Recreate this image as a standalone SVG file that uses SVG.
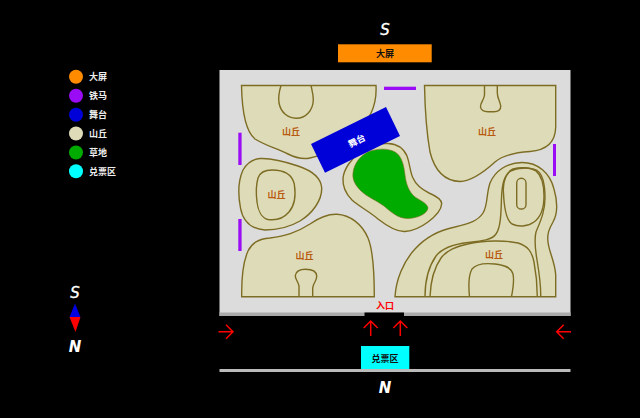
<svg xmlns="http://www.w3.org/2000/svg" width="640" height="418" viewBox="0 0 640 418">
<style>
.hill{fill:#dedcb8;stroke:#7d6c24;stroke-width:1.4}
.line{fill:none;stroke:#7d6c24;stroke-width:1.4}
.bar{fill:#9a0cf5}
.lab{font:bold 9px "Noto Sans CJK SC","Liberation Sans",sans-serif;text-anchor:middle}
.hl{fill:#b8590f}
.leg{font:bold 9px "Noto Sans CJK SC","Liberation Sans",sans-serif;fill:#eee}
.dir{font:italic 400 15px "DejaVu Sans",sans-serif;fill:#fff;text-anchor:middle;stroke:#fff;stroke-width:.3}
.dirb{font:italic 700 15px "DejaVu Sans",sans-serif;fill:#fff;text-anchor:middle}
.arr{fill:none;stroke:#f00;stroke-width:1.5}
</style>
<rect width="640" height="418" fill="#000"/>
<rect x="219.500" y="70" width="351" height="246" fill="#dcdcdc"/>
<rect x="219.500" y="312.500" width="351" height="3.500" fill="#aaa"/>
<rect x="364.500" y="312.500" width="39.500" height="3.500" fill="#000"/>
<g id="hill-nw"><path class="hill" d="M241.500,85.500H376C377,104 370,121 355,133C342,143 326,155 310,158C303,159.500 296,158 288,154C276,148 264,145 255,139C245,131 242,110 241.500,85.500Z"/><path class="line" d="M281,85.500C279,92 278,97 279,103C281,113 288,118 296,118.300C306,118.500 313,110 313.300,100C313.300,94 312,90 311,85.500"/></g>
<g id="hill-ne"><path class="hill" d="M424.500,85.500H555.700V127C555.500,141 548,150 530,151.500C515,152.500 503,155 495,162C484,172 472,181 460,181.500C446,181 435,172 430,152C427,135 425,110 424.500,85.500Z"/><path class="line" d="M484.500,85.500V95C484,100 480,103 480.500,107C481,110.500 484,111.700 488,111.700H494C498,111.700 501,110 500.700,106C500,101 497.500,99 497.300,93V85.500"/></g>
<g id="hill-w"><path class="hill" d="M260,158.500C270,158 285,161.500 298,166C313,171 321,178 321.700,188C322,200 313,213 300,221C288,228 275,230 265,230C252,229 243,222 240.500,208C238,195 238.500,180 243,170C247,163 253,159 260,158.500Z"/><path class="line" d="M272,170C283,170 292,174 294.300,184C296,195 295,205 289,212C283,219 275,220.500 268,219.500C262,218 258,211 257,202C256,194 256,185 258,178C260,172 265,170 272,170Z"/></g>
<g id="hill-sw"><path class="hill" d="M241.700,296.700C241.500,282 243,262 248,251C252,243 258,239 270,238C285,236 296,233 310,224C320,217 329,214 337,214.300C350,215 362,224 368,238C373,250 374.300,270 374.300,296.700Z"/><path class="line" d="M299,296.700V286C298,281 295,279 295.300,275.500C296,271 300,269.300 305.500,269.300C312,269.300 316.500,271 316.700,276C317,281 313,283 312.700,288V296.700"/></g>
<g id="hill-c"><path class="hill" d="M360,152C367,146 376,143 388,143.500C398,144 404,149 407,156C410,164 410,172 413,178C416,185 421,189 429,193C436,196 441.500,199 441.700,203.500C441.500,209 436,216 428,222C420,228 412,231 405,231.500C396,232 387,226 378,219C370,212 360,207 352,200C346,194 342.500,186 343,178C344,169 351,159 360,152Z"/></g>
<g id="lawn"><path d="M353,173C354,163 361,155 369,151.500C377,148.500 388,148 395,152C402,156 404,166 405,175C406,184 409,192 415,197C421,201 427,203 428,208C427,214 418,218 408,218.500C398,218.500 391,212 384,206C376,200 367,197 361,191C356,186 352,180 353,173Z" fill="#00ab00" stroke="#7d6c24" stroke-width="0.600"/></g>
<g id="hill-se"><path class="hill" d="M395,296.700C396,280 403,262 415,249C425,238 440,230 455,227C468,224 478,221 483,213C488,205 486,195 490,183C495,171 507,162.500 522,162.500C538,162.500 550,173 554,189C558,203 558,213 553,222C549,229 547,234 548,242C549,252 555,262 555.700,275V296.700Z"/>
<path class="line" d="M425,296.700C425,280 429,266 436,256C443,247 455,244 468,242.500C482,241 492,240 496,234C501,227 501,212 501.500,198C502,184 504,176 510,171.500C516,167.500 530,167 537,170.500C544,175 545,188 545,198C545,212 540,222 536,232C534,240 535,248 537,260C539,272 541,285 540.700,296.700"/>
<path class="line" d="M430,296.700C430.500,283 434,268 441,258C447,250 456,246.500 470,243.500C484,240.500 505,240 518,243C528,246 532,252 534,262C536.500,275 537.300,285 537.300,296.700"/>
<path class="line" d="M503.500,193C502.500,182 506,172 513,169C520,167 530,167 536,171C542,176 544,186 544,196C544,208 541,217 534,222C527,227 518,227 512,224C506,220 504,205 503.500,193Z"/>
<rect class="line" x="516.700" y="178.300" width="9.300" height="30.700" rx="4.600"/>
<path class="line" d="M469.500,296.700C468.500,287 468,276 472,269C476,264 486,263 495,264C504,265 511,267 513,274C514.500,281 513,289 511.500,296.700"/></g>
<g id="labels">
<text class="lab hl" x="291" y="134.500">山丘</text>
<text class="lab hl" x="487" y="134.500">山丘</text>
<text class="lab hl" x="276.500" y="197.500">山丘</text>
<text class="lab hl" x="304.500" y="258.500">山丘</text>
<text class="lab hl" x="494" y="257.500">山丘</text>
</g>
<g id="stage"><polygon points="386,107 400,136 325,172.700 311,144" fill="#0000d8"/><text class="lab" fill="#fff" transform="translate(357,141) rotate(-27)" y="3">舞台</text></g>
<g id="rails"><rect class="bar" x="384" y="86.700" width="32" height="3.300"/><rect class="bar" x="238.300" y="132.700" width="3.300" height="32.300"/><rect class="bar" x="238.300" y="219" width="3.300" height="32"/><rect class="bar" x="553" y="144" width="3" height="32"/></g>
<g id="screen"><rect x="338" y="44.300" width="93.700" height="18" fill="#ff8c00"/><text class="lab" fill="#111" x="385" y="56.500">大屏</text></g>
<text class="dir" x="385" y="35">S</text>
<text class="dirb" x="385" y="393">N</text>
<g id="entrance"><text class="lab" fill="#f00" x="385" y="309">入口</text></g>
<g id="connectors">
<path class="arr" d="M218.500,331.700H233M226,324.700L233,331.700L226,338.700"/>
<path class="arr" d="M571,331.700H556.700M563.700,324.700L556.700,331.700L563.700,338.700"/>
<path class="arr" d="M370.700,336V321M363.700,328L370.700,321L377.700,328"/>
<path class="arr" d="M400.300,336V321M393.300,328L400.300,321L407.300,328"/>
</g>
<rect x="219.500" y="369" width="351" height="3" fill="#bbb"/>
<g id="tickets"><rect x="361" y="346" width="48.300" height="23" fill="#0ff"/><text class="lab" fill="#111" x="385" y="361.500">兑票区</text></g>
<g id="legend">
<circle cx="76" cy="76.700" r="7" fill="#ff8c00"/><text class="leg" x="89" y="80">大屏</text>
<circle cx="76" cy="95.700" r="7" fill="#9a0cf5"/><text class="leg" x="89" y="99">铁马</text>
<circle cx="76" cy="114.700" r="7" fill="#0000d8"/><text class="leg" x="89" y="118">舞台</text>
<circle cx="76" cy="133.500" r="7" fill="#dedcb8"/><text class="leg" x="89" y="137">山丘</text>
<circle cx="76" cy="152.500" r="7" fill="#00ab00"/><text class="leg" x="89" y="156">草地</text>
<circle cx="76" cy="171.200" r="7" fill="#0ff"/><text class="leg" x="89" y="174.500">兑票区</text>
</g>
<g id="compass">
<text class="dir" x="75" y="298">S</text>
<polygon points="75,303.500 80.500,317 69.500,317" fill="#0000e0"/>
<polygon points="69.500,317 80.500,317 75.500,332" fill="#f00"/>
<text class="dirb" x="75" y="352">N</text>
</g>
</svg>
